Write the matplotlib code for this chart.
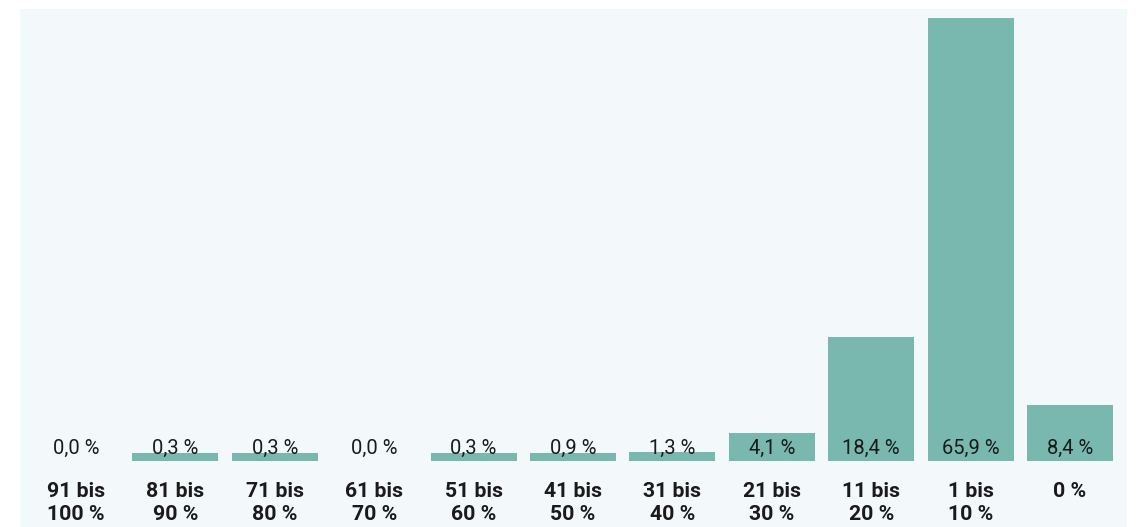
import matplotlib
matplotlib.use("Agg")
from matplotlib import pyplot as plt

# Share of values per range (German labels, comma decimals)
categories = ["91 bis\n100 %", "81 bis\n90 %", "71 bis\n80 %", "61 bis\n70 %",
              "51 bis\n60 %", "41 bis\n50 %", "31 bis\n40 %", "21 bis\n30 %",
              "11 bis\n20 %", "1 bis\n10 %", "0 %"]
shares = [0.0, 0.3, 0.3, 0.0, 0.3, 0.9, 1.3, 4.1, 18.4, 65.9, 8.4]

bar_color = "#79b8ae"
panel_color = "#f3f8fb"
text_color = "#1a1a1a"

plt.rcParams["font.family"] = ["Roboto", "DejaVu Sans"]

fig = plt.figure(figsize=(11.42, 5.27), dpi=100)
ax = fig.add_axes([20 / 1142, 0, 1107 / 1142, 518 / 527])
ax.set_facecolor(panel_color)

# small non-zero shares get a minimum visible height, like the original
min_height = 1.2
heights = [max(v, min_height) if v > 0 else 0 for v in shares]
x = list(range(len(categories)))
ax.bar(x, heights, width=0.865, color=bar_color)

for i, v in enumerate(shares):
    ax.annotate(f"{v:.1f} %".replace(".", ","), xy=(i, 0), xytext=(0, 5),
                textcoords="offset points", ha="center", va="baseline",
                fontsize=14.5, color=text_color)
    lines = categories[i].split("\n")
    for j, line in enumerate(lines):
        ax.annotate(line, xy=(i, 0), xytext=(0, -26 - 16.5 * j),
                    textcoords="offset points", ha="center", va="baseline",
                    fontsize=15.3, fontweight="bold", color=text_color)

ax.set_xlim(-0.563, len(categories) - 1 + 0.573)
ax.set_ylim(-9.82, 67.24)
ax.set_xticks([])
ax.set_yticks([])
for s in ax.spines.values():
    s.set_visible(False)

fig.savefig("out.png", dpi=100, facecolor="white")
